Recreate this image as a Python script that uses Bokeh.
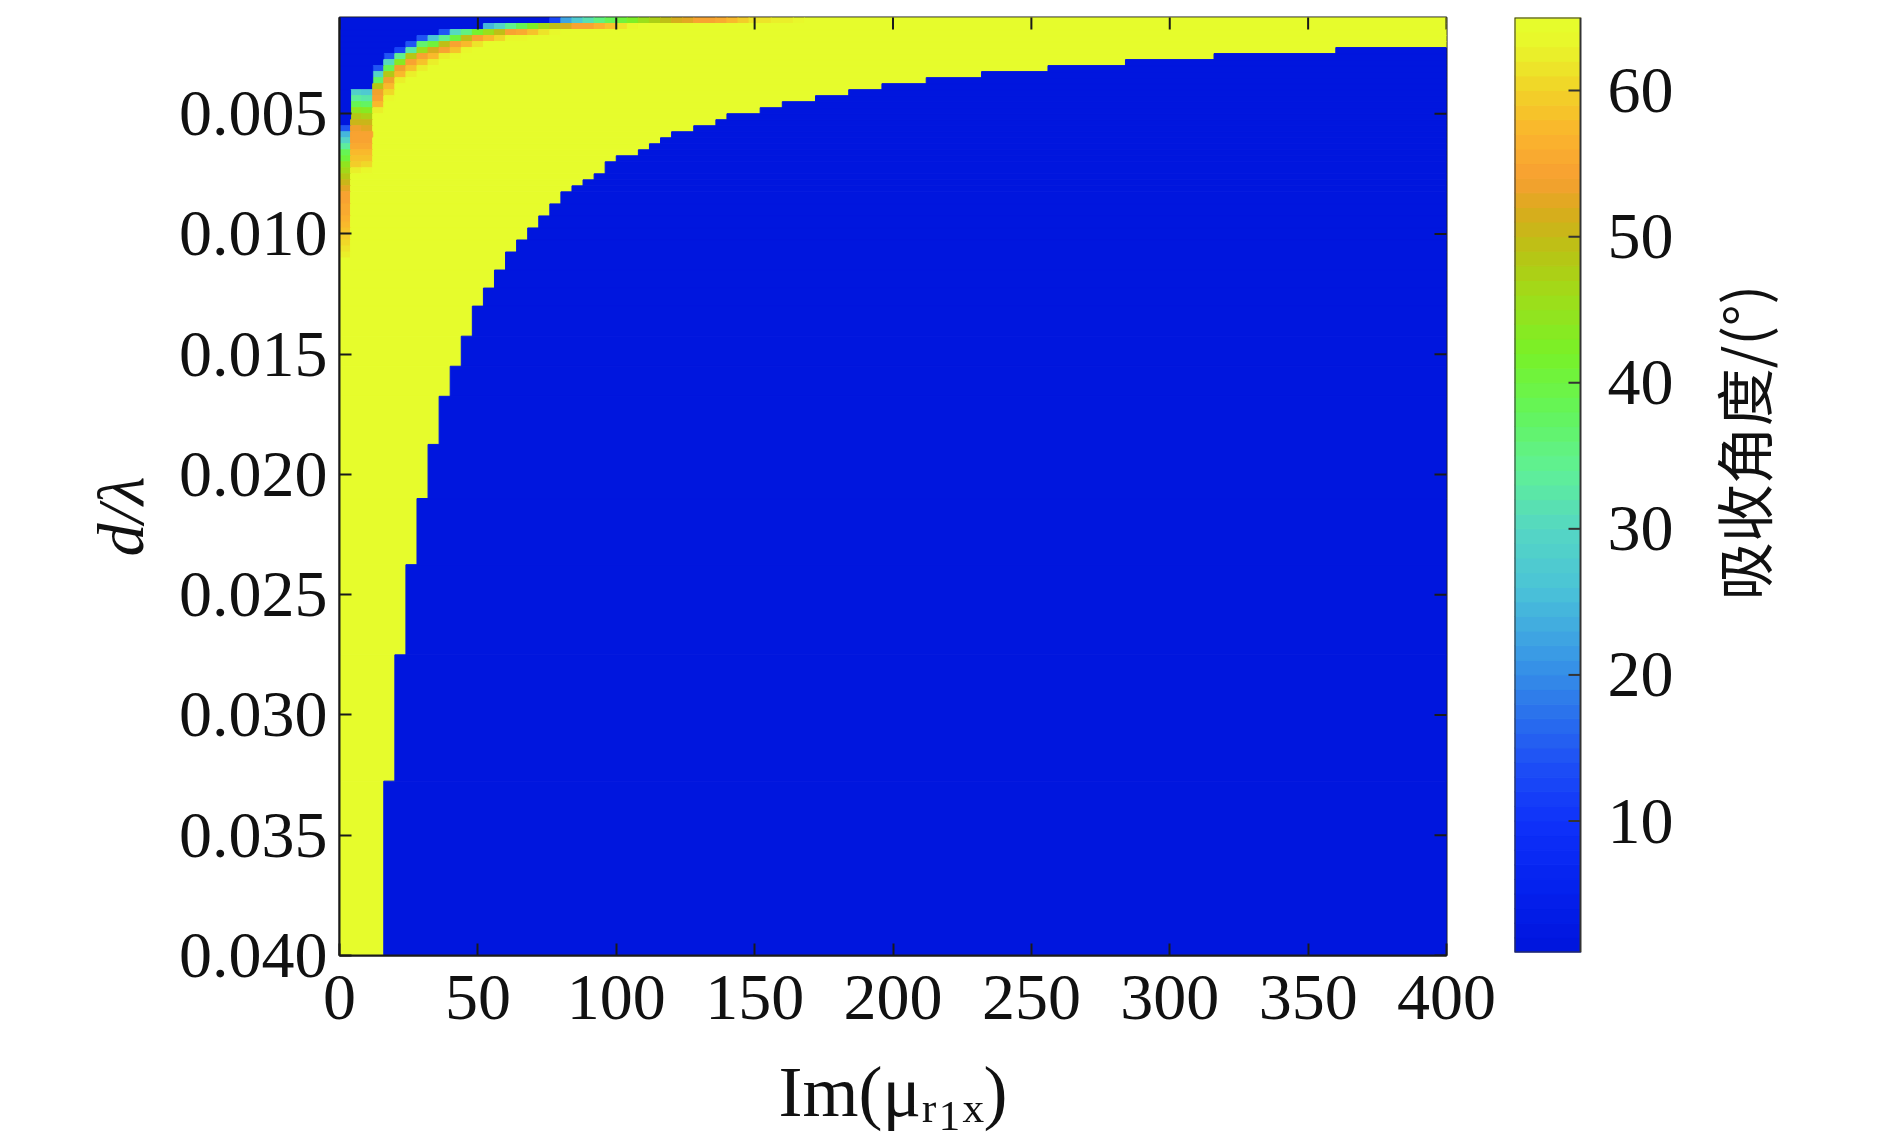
import numpy as np
from math import pi
from bokeh.plotting import figure
from bokeh.layouts import row
from bokeh.models import (Range1d, FixedTicker, PrintfTickFormatter, ColumnDataSource, Label)
from bokeh.transform import linear_cmap
from bokeh.core.properties import value
from bokeh.embed import file_html
from bokeh.resources import INLINE

# ---------------- data ----------------
X_TICKS = [0, 50, 100, 150, 200, 250, 300, 350, 400]
Y_TICKS = [0.005, 0.010, 0.015, 0.020, 0.025, 0.030, 0.035, 0.040]
CB_TICKS = [10, 20, 30, 40, 50, 60]
CB_TICK_LABELS = ["10", "20", "30", "40", "50", "60"]

X_LABEL = "Im(μᵣ₁ₓ)"
Y_LABEL = "d/λ"
CB_LABEL = "吸收角度/(°)"

X_STEP = 4          # Im(mu_r1x) step
N_COLS = 100
Y0 = 0.001          # d/lambda start
Y_END = 0.040
Y_STEP = 0.00025
N_ROWS = 156
V_MIN, V_MAX = 1, 65      # colour scale limits
V_LOW, V_HIGH = 1, 64     # blue / yellow plateau values (degrees)

# yellow/blue border: from row BOUNDARY_ROW_START[i] on, first blue column
BOUNDARY_ROW_START = [0, 5, 6, 7, 8, 9, 10, 11, 12, 13, 14, 15, 16, 17, 18, 19,
                      20, 21, 22, 23, 24, 26, 27, 28, 29, 31, 33, 35, 37, 39,
                      42, 45, 48, 53, 58, 63, 71, 80, 91, 106, 127]
BOUNDARY_FIRST_BLUE_COL = [100, 90, 79, 71, 64, 58, 53, 49, 46, 43, 40, 38, 35,
                           34, 32, 30, 29, 28, 27, 25, 24, 23, 22, 21, 20, 19,
                           18, 17, 16, 15, 14, 13, 12, 11, 10, 9, 8, 7, 6, 5, 4]

# transition band in the top-left corner: per column, first non-blue row
BAND_START = [18, 12, 12, 8, 6, 5, 4, 3, 3, 2, 2, 2, 2, 1, 1, 1, 1, 1, 1] + [0] * 23
BAND_VALUES = [
    [14, 24, 29, 33, 38, 40, 44, 46, 48, 50, 52, 54, 54, 55, 55, 56, 57, 58, 59, 60, 61, 62],
    [28, 33, 38, 44, 48, 50, 53, 54, 54, 55, 57, 58, 59, 62],
    [27, 32, 37, 43, 47, 50, 52, 54, 54, 55, 57, 58, 60, 63],
    [14, 29, 37, 48, 53, 54, 57, 62],
    [14, 30, 38, 48, 53, 57, 60, 63],
    [12, 34, 43, 53, 57, 62],
    [14, 32, 48, 54, 58, 62],
    [14, 36, 45, 54, 58, 62],
    [26, 40, 51, 57, 62],
    [14, 34, 49, 54, 62],
    [30, 40, 54, 58, 63],
    [35, 49, 57, 63],
    [41, 54, 61],
    [24, 45, 57],
    [29, 49, 60],
    [34, 54, 63],
    [38, 55, 63],
    [42, 58],
    [46, 61],
    [12, 49, 63],
    [22, 51],
    [27, 54], [31, 54], [35, 56], [38, 58], [40, 61], [42, 63],
    [45], [47], [49], [51], [52], [54], [54], [55], [57], [59], [61], [61], [62], [62], [63],
]

# colour map anchors (value, r, g, b)
CMAP_ANCHORS = [
    (1, 0, 20, 220), (6, 5, 35, 240), (10, 15, 50, 250), (14, 30, 80, 245),
    (18, 45, 120, 235), (22, 60, 160, 228), (26, 75, 195, 215), (30, 85, 215, 195),
    (34, 95, 240, 150), (38, 100, 245, 90), (42, 120, 242, 40), (46, 160, 220, 25),
    (49, 185, 195, 20), (52, 220, 170, 30), (54, 248, 160, 50), (57, 250, 180, 45),
    (60, 242, 210, 40), (63, 232, 245, 42), (65, 230, 255, 45),
]

# ---------------- build palette ----------------
av = np.array([a[0] for a in CMAP_ANCHORS], float)
ar = np.array([a[1] for a in CMAP_ANCHORS], float)
ag = np.array([a[2] for a in CMAP_ANCHORS], float)
ab = np.array([a[3] for a in CMAP_ANCHORS], float)
centers = V_MIN + 0.5 + np.arange(64)
PAL = ["#%02x%02x%02x" % (int(round(np.interp(c, av, ar))),
                          int(round(np.interp(c, av, ag))),
                          int(round(np.interp(c, av, ab)))) for c in centers]

# ---------------- build grid ----------------
grid = np.full((N_ROWS, N_COLS), float(V_HIGH))
starts = BOUNDARY_ROW_START + [N_ROWS]
for i, fb in enumerate(BOUNDARY_FIRST_BLUE_COL):
    grid[starts[i]:starts[i + 1], fb:] = V_LOW
for k, (s, vals) in enumerate(zip(BAND_START, BAND_VALUES)):
    grid[:s, k] = V_LOW
    grid[s:s + len(vals), k] = vals

# run-length encode rows, then merge identical runs vertically
rows_runs = []
for r in range(N_ROWS):
    runs = []
    c0 = 0
    for c in range(1, N_COLS + 1):
        if c == N_COLS or grid[r, c] != grid[r, c0]:
            runs.append((c0, c, grid[r, c0]))
            c0 = c
    rows_runs.append(runs)
quads = []
open_q = {}
for r, runs in enumerate(rows_runs):
    new_open = {}
    for run in runs:
        new_open[run] = open_q.get(run, r)
    for run, r0 in open_q.items():
        if run not in new_open:
            quads.append((run, r0, r))
    open_q = new_open
for run, r0 in open_q.items():
    quads.append((run, r0, N_ROWS))

src = ColumnDataSource(dict(
    left=[q[0][0] * X_STEP for q in quads],
    right=[q[0][1] * X_STEP for q in quads],
    top=[Y0 + q[1] * Y_STEP for q in quads],
    bottom=[Y0 + q[2] * Y_STEP for q in quads],
    v=[q[0][2] for q in quads],
))

# ---------------- styling constants ----------------
FONT = "Liberation Serif"
TICK_SIZE = "66px"
INK = "#1a1a1a"
TXT = "#111111"
TOP = 17
FRAME_H = 938
YL_W = 172

# ---------------- y-label strip ----------------
yl = figure(frame_width=YL_W, frame_height=FRAME_H, x_range=Range1d(0, YL_W),
            y_range=Range1d(Y_END, Y0), output_backend="svg", toolbar_location=None,
            min_border_left=0, min_border_right=0, min_border_top=TOP,
            min_border_bottom=170)
yl.axis.visible = False
yl.grid.visible = False
yl.outline_line_color = None
yl.add_layout(Label(x=120, y=0.02175, text=Y_LABEL, angle=pi / 2,
                    text_align="center", text_baseline="middle",
                    text_font=FONT, text_font_style="italic",
                    text_font_size="66px", text_color=TXT))

# ---------------- main figure ----------------
p = figure(frame_width=1107, frame_height=FRAME_H,
           x_range=Range1d(0, N_COLS * X_STEP), y_range=Range1d(Y_END, Y0),
           output_backend="svg", toolbar_location=None,
           min_border_left=339 - YL_W, min_border_top=TOP, min_border_right=60,
           min_border_bottom=170, background_fill_color="white")
cmap = linear_cmap("v", PAL, V_MIN, V_MAX)
p.quad(left="left", right="right", top="top", bottom="bottom", source=src,
       fill_color=cmap, line_color=cmap, line_width=1)

# tick marks on the top and right edges of the box
p.scatter(x=X_TICKS, y=[Y0] * len(X_TICKS), marker="dash", angle=pi / 2,
          size=24, line_color=INK, line_width=2)
p.scatter(x=[N_COLS * X_STEP] * len(Y_TICKS), y=Y_TICKS, marker="dash",
          size=24, line_color=INK, line_width=2)

p.grid.visible = False
p.outline_line_color = INK
p.outline_line_width = 2

def style_axis(ax):
    ax.major_tick_in = 12
    ax.major_tick_out = 0
    ax.minor_tick_line_color = None
    ax.major_tick_line_color = INK
    ax.major_tick_line_width = 2
    ax.axis_line_color = INK
    ax.axis_line_width = 2
    ax.major_label_text_font = FONT
    ax.major_label_text_color = TXT
    ax.major_label_text_font_size = TICK_SIZE
    ax.axis_label_text_color = TXT

p.xaxis.ticker = FixedTicker(ticks=X_TICKS)
p.yaxis.ticker = FixedTicker(ticks=Y_TICKS)
p.yaxis.formatter = PrintfTickFormatter(format="%.3f")
style_axis(p.xaxis[0])
style_axis(p.yaxis[0])
p.xaxis.major_label_standoff = 20
p.yaxis.major_label_standoff = 12

p.xaxis.axis_label = X_LABEL
p.xaxis.axis_label_text_font = FONT
p.xaxis.axis_label_text_font_style = "normal"
p.xaxis.axis_label_text_font_size = "72px"
p.xaxis.axis_label_standoff = 30

# ---------------- colour bar figure (bar, ticks, labels, title in one frame) ----------------
CB_W = 360
cb = figure(frame_width=CB_W, frame_height=935, x_range=Range1d(0, CB_W / 66.0),
            y_range=Range1d(V_MIN, V_MAX), output_backend="svg",
            toolbar_location=None, min_border_left=8, min_border_top=TOP,
            min_border_right=0, min_border_bottom=173)
cb.axis.visible = False
cb.grid.visible = False
cb.outline_line_color = None
cb_src = ColumnDataSource(dict(bottom=list(V_MIN + np.arange(64)),
                               top=list(V_MIN + 1 + np.arange(64)),
                               color=PAL))
cb.quad(left=0, right=1, bottom="bottom", top="top", fill_color="color",
        line_color="color", line_width=1, source=cb_src)
cb.quad(left=[0], right=[1], bottom=[V_MIN], top=[V_MAX], fill_color=None,
        line_color="#333333", line_width=2)
cb.scatter(x=[1 - 6 / 66.0] * len(CB_TICKS), y=CB_TICKS, marker="dash", size=12,
           line_color="#333333", line_width=2)
cb.text(x=[1.41] * len(CB_TICKS), y=CB_TICKS, text=CB_TICK_LABELS,
        text_font=value(FONT), text_font_size="66px", text_color=TXT,
        text_align="left", text_baseline="middle")
cb.add_layout(Label(x=3.45, y=35.9, text=CB_LABEL, angle=pi / 2,
                    text_align="center", text_baseline="middle",
                    text_font="Noto Sans CJK SC", text_font_size="58px",
                    text_color=TXT))

layout = row(yl, p, cb)
open("out.html", "w").write(file_html(layout, INLINE))
